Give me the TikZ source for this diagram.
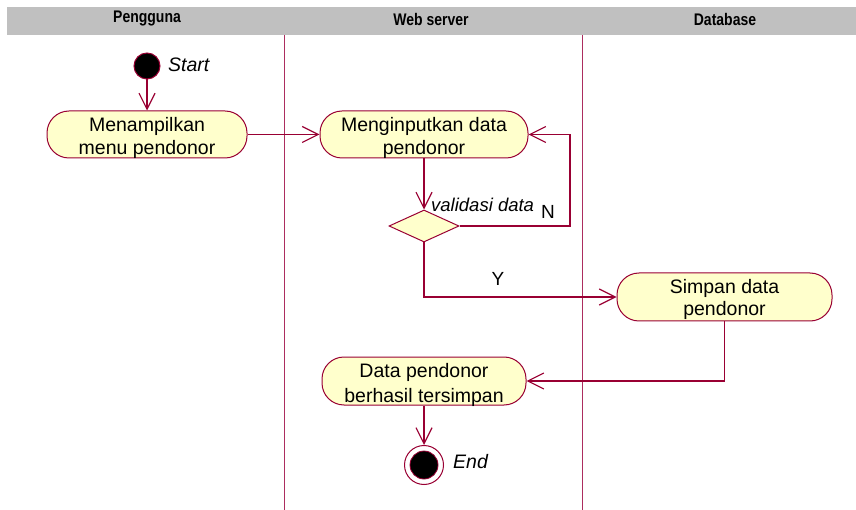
\documentclass[tikz,border=0pt]{standalone}
\usepackage{fontspec}
\setmainfont{Liberation Sans}
\usetikzlibrary{arrows.meta,shapes.geometric}

\definecolor{umlline}{RGB}{153,0,51}
\definecolor{laneline}{RGB}{172,45,95}
\definecolor{umlfill}{RGB}{255,255,204}
\definecolor{headgray}{RGB}{192,192,192}

\newcommand{\tallhead}[1]{\scalebox{1}[1.2]{#1}}

\tikzset{
  activity/.style={rectangle, rounded corners=22pt, draw=umlline, fill=umlfill,
    line width=1pt, align=center, inner sep=0pt, minimum height=47pt,
    text height=44pt, text depth=3pt,
    font=\fontsize{19.5}{23.5}\selectfont},
  decision/.style={diamond, draw=umlline, fill=umlfill, line width=1pt,
    inner sep=0pt, minimum width=70pt, minimum height=32pt, aspect=2.2},
  flow/.style={draw=umlline, line width=1.2pt,
    -{Straight Barb[length=16pt,width=16pt,line width=1.2pt]}},
  lanehead/.style={font=\fontsize{14}{16}\selectfont\bfseries},
  note/.style={font=\fontsize{19.5}{22}\selectfont\itshape, inner sep=0pt},
  guard/.style={font=\fontsize{19}{22}\selectfont, inner sep=0pt},
}

\begin{document}
\begin{tikzpicture}[x=1pt, y=-1pt]
  \useasboundingbox (0,0) rectangle (856,510);

  % swimlane header and separators
  \fill[headgray] (7,7) rectangle (856,35);
  \node[lanehead] (hUser) at (147,19) {\tallhead{Pengguna}};
  \node[lanehead] (hWeb)  at (431,19) {\tallhead{Web server}};
  \node[lanehead] (hDb)   at (725,19) {\tallhead{Database}};
  \draw[laneline, line width=1pt] (284,35) -- (284,510);
  \draw[laneline, line width=1pt] (582,35) -- (582,510);

  % start node
  \node[circle, fill=black, draw=umlline, line width=1pt, minimum size=26pt, inner sep=0pt] (start) at (147,66) {};
  \node[note, anchor=west] (startlbl) at (168,65) {Start};

  % activities
  \node[activity, minimum width=200pt] (a1) at (147,134.5) {Menampilkan\\menu pendonor};
  \node[activity, minimum width=208pt] (a2) at (424,134.5) {Menginputkan data\\pendonor};
  \node[decision] (dec) at (424,226) {};
  \node[note, font=\fontsize{18.5}{22}\selectfont\itshape, anchor=base west] (declbl) at (431,212) {validasi data};
  \node[activity, minimum width=215pt, minimum height=48pt, text height=43pt, text depth=5pt,
        font=\fontsize{19.5}{22.5}\selectfont] (a3) at (724.5,297) {Simpan data\\pendonor};
  \node[activity, minimum width=204pt, minimum height=48pt, text height=45pt, text depth=3pt,
        font=\fontsize{19.5}{24.5}\selectfont] (a4) at (424,381) {Data pendonor\\berhasil tersimpan};

  % end node
  \node[circle, fill=white, draw=umlline, line width=1pt, minimum size=39pt, inner sep=0pt] (end) at (424,465) {};
  \node[circle, fill=black, draw=umlline, line width=0.8pt, minimum size=28pt, inner sep=0pt] (endcore) at (424,465) {};
  \node[note, anchor=west] (endlbl) at (453,462) {End};

  % guard labels
  \node[guard, anchor=base] (gN) at (548,219) {N};
  \node[guard, anchor=base] (gY) at (498,285.5) {Y};

  % flows
  \coordinate (nloop) at (570,226);
  \draw[flow] (start.south) -- (a1.north);
  \draw[flow] (a1.east) -- (a2.west);
  \draw[flow] (a2.south) -- (dec.north);
  \draw[flow] (dec.east) -- (nloop) |- (a2.east);
  \draw[flow] (dec.south) |- (a3.west);
  \draw[flow] (a3.south) |- (a4.east);
  \draw[flow] (a4.south) -- (end.north);
\end{tikzpicture}
\end{document}
